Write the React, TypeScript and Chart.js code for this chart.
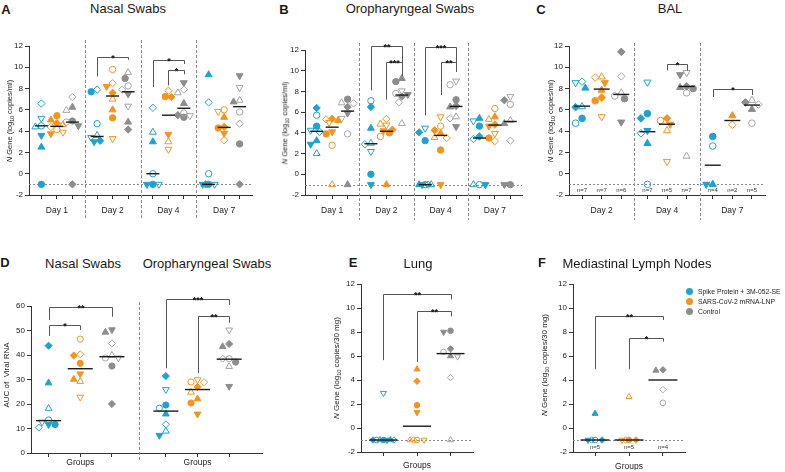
import React, { useEffect, useRef } from 'react';
import { Chart, registerables } from 'chart.js';

Chart.register(...registerables);

const FONT = "'Liberation Sans', Arial, Helvetica, sans-serif";
Chart.defaults.font.family = FONT;

type Val = number | null;
type Sig = { cat: number; from: number; to: number; y: number; yFrom: number; yTo: number; label: string };

// ---------- shared ----------
const GROUPS = ['Spike Protein + 3M-052-SE', 'SARS-CoV-2 mRNA-LNP', 'Control'];
const GROUP_COLORS = ['#1ea2cf', '#f6931f', '#8d8d8d'];
const OPEN_COLORS = ['#1ea2cf', '#f6931f', '#a5a5a5'];
// one marker per animal (order of the values in every row below)
const ANIMAL_MARKERS = ['circle', 'circle-open', 'tri', 'tri-open', 'down', 'down-open', 'diamond', 'diamond-open'];

// ---------- A: Nasal swabs (log10 copies/ml) ----------
const A_DAYS = ['Day 1', 'Day 2', 'Day 4', 'Day 7'];
const A_SPIKE: Val[][] = [
  [-1, 4.5, 2.5, 4.4, 3.6, 5.2, null, 6.6],
  [7.7, 4.7, null, 3.6, 3.0, 3.4, 3.1, 7.9],
  [-1, 0.0, 3.0, 3.9, -1, -1, null, 6.2],
  [-1, 0.0, 9.3, null, -1, -1, -1, 6.7],
];
const A_MRNA: Val[][] = [
  [5.45, 4.15, 5.05, 4.6, 3.75, 3.9, 4.75, 4.4],
  [5.25, 9.8, 6.0, 7.0, 8.2, 3.3, 7.6, 8.5],
  [7.25, null, null, 3.0, 3.7, 2.3, 7.2, 7.8],
  [4.3, 6.0, 5.3, null, 3.8, 5.85, 4.4, 3.15],
];
const A_CONTROL: Val[][] = [
  [4.95, 4.85, 6.25, 5.95, 4.5, null, -1, 7.2],
  [8.95, 8.25, 4.85, 9.5, 7.5, 6.35, 4.15, 7.9],
  [5.3, 5.7, 6.6, 7.6, 8.55, 5.45, 5.5, 7.9],
  [2.8, 5.8, 6.75, 6.9, 9.2, 8.1, -1, 4.7],
];
const A_MEDIANS = [[4.5, 4.45, 4.85], [3.5, 7.3, 7.7], [0.0, 5.5, 6.15], [-1, 4.35, 6.3]];
const A_SIG: Sig[] = [
  { cat: 1, from: 0, to: 2, y: 11.0, yFrom: 9.15, yTo: 10.7, label: '*' },
  { cat: 2, from: 0, to: 2, y: 10.65, yFrom: 8.15, yTo: 10.3, label: '*' },
  { cat: 2, from: 1, to: 2, y: 9.7, yFrom: 8.3, yTo: 9.35, label: '*' },
];

// ---------- B: Oropharyngeal swabs ----------
const B_DAYS = ['Day 1', 'Day 2', 'Day 4', 'Day 7'];
const B_SPIKE: Val[][] = [
  [4.65, 5.7, 3.25, 2.0, 2.9, 4.25, 6.4, 4.1],
  [0.0, 7.1, 4.45, 3.0, -1, 2.2, 6.5, 2.9],
  [3.25, -1, -1, -1, -1, 4.45, 4.05, -1],
  [4.65, -1, 5.4, -1, -1, 5.15, 3.65, 3.4],
];
const B_MRNA: Val[][] = [
  [3.9, 2.8, 5.2, -1, 4.1, 5.0, 5.35, 5.3],
  [4.0, 3.65, -1, 4.85, 4.2, 4.75, 4.3, 5.35],
  [2.35, 4.65, 3.95, 3.55, -1, 5.55, 4.25, 3.5],
  [3.5, 6.35, 5.55, 5.3, 4.65, 3.95, 4.8, 3.2],
];
const B_CONTROL: Val[][] = [
  [7.25, 3.9, -1, 6.9, 5.9, 5.4, 6.5, 6.85],
  [8.95, 7.8, 9.25, 4.9, 7.7, 8.05, 7.5, 6.95],
  [7.2, 8.65, 6.5, 5.55, 4.6, 9.0, 6.6, 5.4],
  [-1, 6.75, 4.9, 5.2, -1, 7.5, 7.15, 3.25],
];
const B_MEDIANS = [[4.15, 4.55, 6.1], [2.95, 4.15, 7.65], [-1, 3.75, 6.55], [3.5, 4.75, 5.1]];
const B_SIG: Sig[] = [
  { cat: 1, from: 0, to: 2, y: 12.4, yFrom: 8.1, yTo: 9.5, label: '**' },
  { cat: 1, from: 1, to: 2, y: 10.8, yFrom: 7.2, yTo: 9.5, label: '***' },
  { cat: 2, from: 0, to: 2, y: 12.25, yFrom: 5.7, yTo: 9.9, label: '***' },
  { cat: 2, from: 1, to: 2, y: 10.8, yFrom: 7.65, yTo: 9.9, label: '**' },
];

// ---------- C: BAL ----------
const C_DAYS = ['Day 2', 'Day 4', 'Day 7'];
const C_SPIKE: Val[][] = [
  [5.2, 4.75, 8.05, 6.3, null, 8.55, 6.25, 8.65],
  [5.65, -1, 2.85, null, 4.05, 8.6, 5.2, 3.8],
  [3.5, 2.6, -1, null, -1, null, null, null],
];
const C_MRNA: Val[][] = [
  [6.85, null, 7.85, 9.1, 8.55, 5.35, 7.15, 9.05],
  [null, 5.0, null, 4.05, 4.65, 1.15, 5.2, null],
  [null, null, 5.45, null, null, null, null, 4.6],
];
const C_CONTROL: Val[][] = [
  [7.05, 7.3, null, 7.6, 4.85, null, 11.45, 9.15],
  [8.0, 7.6, 8.1, 1.65, 9.3, 9.5, 8.2, null],
  [null, 4.75, 6.05, 6.9, null, null, 6.7, 6.5],
];
const C_MEDIANS = [[6.35, 7.95, 7.45], [3.95, 4.65, 8.2], [0.8, 5.0, 6.45]];
const C_N = [['n=7', 'n=7', 'n=6'], ['n=7', 'n=5', 'n=7'], ['n=4', 'n=2', 'n=5']];
const C_SIG: Sig[] = [
  { cat: 1, from: 1, to: 2, y: 10.3, yFrom: 9.7, yTo: 9.7, label: '*' },
  { cat: 2, from: 0, to: 2, y: 8.0, yFrom: 7.2, yTo: 7.4, label: '*' },
];

// ---------- D: AUC of viral RNA ----------
const D_CATS = ['Groups', 'Groups'];
const D_SPIKE: Val[][] = [
  [11.6, 13.5, 28.6, 18.2, 11.6, 12.6, 43.8, 10.4],
  [19.6, 18.3, 15.9, 8.9, 7.2, 25.9, 31.4, 11.7],
];
const D_MRNA: Val[][] = [
  [36.6, 46.5, 30.1, 29.2, 32.3, 22.8, 39.8, 40.3],
  [20.4, 29.0, 22.1, 24.8, 15.9, 29.9, 26.9, 28.9],
];
const D_CONTROL: Val[][] = [
  [35.5, 38.8, 49.3, 39.9, 50.3, 38.8, 20.0, 44.7],
  [37.1, 38.5, 43.4, 35.3, 27.2, 50.2, 44.5, 38.5],
];
const D_MEDIANS = [[13.2, 34.4, 39.3], [17.1, 25.9, 38.3]];
const D_SIG: Sig[] = [
  { cat: 0, from: 0, to: 2, y: 59.4, yFrom: 54.3, yTo: 55.6, label: '**' },
  { cat: 0, from: 0, to: 1, y: 52.2, yFrom: 47.8, yTo: 50.2, label: '*' },
  { cat: 1, from: 0, to: 2, y: 62.7, yFrom: 34.6, yTo: 60.4, label: '***' },
  { cat: 1, from: 1, to: 2, y: 55.9, yFrom: 32.6, yTo: 53.2, label: '**' },
];

// ---------- E: Lung (log10 copies/30 mg) ----------
const E_CATS = ['Groups'];
const E_SPIKE: Val[][] = [[-1, -1, -1, -1, -1, 2.9, -1, -1]];
const E_MRNA: Val[][] = [[1.9, -1, 4.9, -1, 1.3, -1, 3.9, -1]];
const E_CONTROL: Val[][] = [[8.1, 6.35, 6.0, -1, 8.0, 5.95, 6.6, 4.2]];
const E_MEDIANS = [[-1, 0.15, 6.2]];
const E_SIG: Sig[] = [
  { cat: 0, from: 0, to: 2, y: 11.2, yFrom: 5.65, yTo: 10.7, label: '**' },
  { cat: 0, from: 1, to: 2, y: 9.75, yFrom: 5.5, yTo: 9.3, label: '**' },
];

// ---------- F: Mediastinal lymph nodes ----------
const F_CATS = ['Groups'];
const F_SPIKE: Val[][] = [[null, -1, 1.2, null, -1, null, -1, -1]];
const F_MRNA: Val[][] = [[-1, null, null, 2.6, null, -1, -1, -1]];
const F_CONTROL: Val[][] = [[null, 2.1, 4.8, null, null, null, 4.85, 3.2]];
const F_MEDIANS = [[-1, -1, 4.0]];
const F_N = [['n=5', 'n=5', 'n=4']];
const F_SIG: Sig[] = [
  { cat: 0, from: 0, to: 2, y: 9.35, yFrom: 4.9, yTo: 9.0, label: '**' },
  { cat: 0, from: 1, to: 2, y: 7.5, yFrom: 4.9, yTo: 7.2, label: '*' },
];

// ---------- layout ----------
type Panel = {
  key: string;
  box: number[]; // canvas left, top, width, height
  plot: number[]; // left, top, right, bottom of plot area
  xRange: number[];
  w: number;
  yRange: number[]; // min, max, step
  cats: string[];
  series: Val[][][];
  medians: number[][];
  sigs: Sig[];
  nLabels?: string[][];
  lod: boolean;
  radius: number;
  medHalf: number;
  step: number;
  maxW: number;
  xPad: number;
  divTop: number;
  divBottom: number;
};

const PANELS: Panel[] = [
  {
    key: 'A', box: [0, 20, 262, 210], plot: [29, 46, 252, 195], xRange: [-0.5, 3.5], w: 0.278,
    yRange: [-2, 12, 2], cats: A_DAYS, series: [A_SPIKE, A_MRNA, A_CONTROL], medians: A_MEDIANS, sigs: A_SIG,
    lod: true, radius: 3.2, medHalf: 6.5, step: 6, maxW: 6.5, xPad: 7, divTop: 6, divBottom: 25,
  },
  {
    key: 'B', box: [262, 20, 268, 210], plot: [305, 50, 522, 195], xRange: [-0.5, 3.5], w: 0.285,
    yRange: [-2, 12, 2], cats: B_DAYS, series: [B_SPIKE, B_MRNA, B_CONTROL], medians: B_MEDIANS, sigs: B_SIG,
    lod: true, radius: 3.2, medHalf: 6.5, step: 6, maxW: 6.5, xPad: 7, divTop: 7, divBottom: 25,
  },
  {
    key: 'C', box: [530, 20, 255, 210], plot: [569, 46, 765, 195], xRange: [-0.5, 2.5], w: 0.3,
    yRange: [-2, 12, 2], cats: C_DAYS, series: [C_SPIKE, C_MRNA, C_CONTROL], medians: C_MEDIANS, sigs: C_SIG,
    nLabels: C_N, lod: true, radius: 3.3, medHalf: 8, step: 6.5, maxW: 8, xPad: 7, divTop: 3, divBottom: 25,
  },
  {
    key: 'D', box: [0, 280, 272, 192], plot: [31, 306, 262, 453], xRange: [-0.42, 1.55], w: 0.27,
    yRange: [0, 60, 10], cats: D_CATS, series: [D_SPIKE, D_MRNA, D_CONTROL], medians: D_MEDIANS, sigs: D_SIG,
    lod: false, radius: 3.1, medHalf: 12.5, step: 6.5, maxW: 12, xPad: 1, divTop: 4, divBottom: 8,
  },
  {
    key: 'E', box: [335, 270, 145, 202], plot: [361, 284, 473, 452], xRange: [-1.67, 1.67], w: 1,
    yRange: [-2, 12, 2], cats: E_CATS, series: [E_SPIKE, E_MRNA, E_CONTROL], medians: E_MEDIANS, sigs: E_SIG,
    lod: true, radius: 2.8, medHalf: 14, step: 7, maxW: 13, xPad: 5, divTop: 0, divBottom: 0,
  },
  {
    key: 'F', box: [548, 270, 142, 202], plot: [573, 284, 685, 452], xRange: [-1.65, 1.65], w: 1,
    yRange: [-2, 12, 2], cats: F_CATS, series: [F_SPIKE, F_MRNA, F_CONTROL], medians: F_MEDIANS, sigs: F_SIG,
    nLabels: F_N, lod: true, radius: 2.8, medHalf: 14.5, step: 7, maxW: 13, xPad: 6, divTop: 0, divBottom: 0,
  },
];

const Y_AXIS_W = 24;

// beeswarm: horizontal pixel offsets so markers do not pile up
function swarm(vals: Val[], pxY: number, s: number, maxW: number): number[] {
  const out = vals.map(() => 0);
  const order = vals.map((_, i) => i).filter((i) => vals[i] != null)
    .sort((a, b) => (vals[b] as number) - (vals[a] as number));
  const cands: number[] = [0];
  for (let k = 0.5; k * s <= maxW + 0.01; k += 0.5) cands.push(-k * s, k * s);
  const placed: { x: number; y: number }[] = [];
  for (const i of order) {
    const y = (vals[i] as number) * pxY;
    let best = 0;
    let bestD = -1;
    for (const c of cands) {
      let d = Infinity;
      for (const q of placed) d = Math.min(d, Math.hypot(q.x - c, q.y - y));
      if (d >= s) { best = c; break; }
      if (d > bestD + 0.01) { bestD = d; best = c; }
    }
    placed.push({ x: best, y });
    out[i] = best;
  }
  return out;
}

function PanelChart({ p }: { p: Panel }) {
  const ref = useRef<HTMLCanvasElement>(null);
  useEffect(() => {
    const canvas = ref.current;
    if (!canvas) return;
    const [bl, bt, bw, bh] = p.box;
    const [pl, pt, pr, pb] = p.plot;
    const pxX = (pr - pl) / (p.xRange[1] - p.xRange[0]);
    const pxY = (pb - pt) / (p.yRange[1] - p.yRange[0]);
    const xH = bt + bh - pb - 2;
    const gx = (c: number, g: number) => c + (g - 1) * p.w;

    const datasets = p.series.map((grid, g) => {
      const pts: { x: number; y: number }[] = [];
      const styles: string[] = [];
      const rots: number[] = [];
      const radii: number[] = [];
      const fills: string[] = [];
      const strokes: string[] = [];
      grid.forEach((vals, c) => {
        const offs = swarm(vals, pxY, p.step, p.maxW);
        vals.forEach((v, i) => {
          if (v == null) return;
          pts.push({ x: gx(c, g) + offs[i] / pxX, y: v });
          const m = ANIMAL_MARKERS[i];
          const open = m.endsWith('-open');
          const shape = m.replace('-open', '');
          styles.push(shape === 'circle' ? 'circle' : shape === 'diamond' ? 'rectRot' : 'triangle');
          rots.push(shape === 'down' ? 180 : 0);
          radii.push(p.radius * (shape === 'circle' ? 1 : shape === 'diamond' ? 1.15 : 1.25));
          fills.push(open ? 'rgba(255,255,255,0)' : GROUP_COLORS[g]);
          strokes.push(open ? OPEN_COLORS[g] : GROUP_COLORS[g]);
        });
      });
      return {
        label: GROUPS[g], data: pts, showLine: false, clip: false,
        pointStyle: styles, pointRotation: rots, pointRadius: radii,
        pointBackgroundColor: fills, pointBorderColor: strokes, pointBorderWidth: 1,
      };
    });

    const tickVals: number[] = [];
    p.cats.forEach((_, c) => { for (let g = 0; g < 3; g++) tickVals.push(gx(c, g)); });

    const overlay = {
      id: 'overlay' + p.key,
      beforeDatasetsDraw(chart: any) {
        const ctx = chart.ctx;
        const xs = chart.scales.x;
        const ys = chart.scales.y;
        const a = chart.chartArea;
        ctx.save();
        ctx.strokeStyle = '#8a8a8a';
        ctx.lineWidth = 1;
        ctx.setLineDash([3, 2]);
        for (let c = 0; c < p.cats.length - 1; c++) {
          const x = Math.round(xs.getPixelForValue(c + 0.5)) + 0.5;
          ctx.beginPath();
          ctx.moveTo(x, a.top - p.divTop);
          ctx.lineTo(x, a.bottom + p.divBottom);
          ctx.stroke();
        }
        if (p.lod) {
          const y = Math.round(ys.getPixelForValue(-1)) + 0.5;
          ctx.setLineDash([2, 2]);
          ctx.beginPath();
          ctx.moveTo(a.left, y);
          ctx.lineTo(a.right, y);
          ctx.stroke();
        }
        ctx.restore();
      },
      afterDatasetsDraw(chart: any) {
        const ctx = chart.ctx;
        const xs = chart.scales.x;
        const ys = chart.scales.y;
        ctx.save();
        // medians
        ctx.strokeStyle = '#1a1a1a';
        ctx.lineWidth = 1.4;
        p.medians.forEach((row, c) => row.forEach((m, g) => {
          const x = xs.getPixelForValue(gx(c, g));
          const y = ys.getPixelForValue(m);
          ctx.beginPath();
          ctx.moveTo(x - p.medHalf, y);
          ctx.lineTo(x + p.medHalf, y);
          ctx.stroke();
        }));
        // significance brackets
        ctx.strokeStyle = '#555';
        ctx.lineWidth = 1;
        ctx.fillStyle = '#111';
        ctx.font = `bold 9px ${FONT}`;
        ctx.textAlign = 'center';
        ctx.textBaseline = 'alphabetic';
        p.sigs.forEach((s) => {
          const x1 = Math.round(xs.getPixelForValue(gx(s.cat, s.from))) + 0.5;
          const x2 = Math.round(xs.getPixelForValue(gx(s.cat, s.to))) + 0.5;
          const yt = Math.round(ys.getPixelForValue(s.y)) + 0.5;
          ctx.beginPath();
          ctx.moveTo(x1, ys.getPixelForValue(s.yFrom));
          ctx.lineTo(x1, yt);
          ctx.lineTo(x2, yt);
          ctx.lineTo(x2, ys.getPixelForValue(s.yTo));
          ctx.stroke();
          ctx.fillText(s.label, (x1 + x2) / 2, yt + 3.5);
        });
        // n labels
        if (p.nLabels) {
          ctx.font = `6px ${FONT}`;
          ctx.fillStyle = '#333';
          ctx.textBaseline = 'middle';
          p.nLabels.forEach((row, c) => row.forEach((t, g) => {
            ctx.fillText(t, xs.getPixelForValue(gx(c, g)), ys.getPixelForValue(-1.6));
          }));
        }
        ctx.restore();
      },
    };

    const axisColor = '#333';
    const chart = new Chart(canvas, {
      type: 'scatter',
      data: { datasets: datasets as any },
      options: {
        animation: false,
        responsive: false,
        maintainAspectRatio: false,
        events: [],
        layout: {
          padding: { left: pl - bl - Y_AXIS_W, right: bl + bw - pr, top: pt - bt, bottom: 2 },
        },
        plugins: { legend: { display: false }, tooltip: { enabled: false }, title: { display: false } },
        scales: {
          x: {
            type: 'linear',
            min: p.xRange[0],
            max: p.xRange[1],
            afterBuildTicks: (s: any) => { s.ticks = tickVals.map((v) => ({ value: v })); },
            afterFit: (s: any) => { s.height = xH; },
            ticks: {
              autoSkip: false, maxRotation: 0, minRotation: 0, padding: p.xPad,
              font: { size: 8.5, family: FONT }, color: '#222',
              callback: (_v: any, i: number) => (i % 3 === 1 ? p.cats[(i - 1) / 3] : ''),
            },
            grid: { drawOnChartArea: false, drawTicks: true, tickLength: 4, color: axisColor },
            border: { display: true, color: axisColor, width: 1 },
          },
          y: {
            type: 'linear',
            min: p.yRange[0],
            max: p.yRange[1],
            afterFit: (s: any) => { s.width = Y_AXIS_W; },
            ticks: { stepSize: p.yRange[2], padding: 2, font: { size: 8, family: FONT }, color: '#222' },
            grid: { drawOnChartArea: false, drawTicks: true, tickLength: 4, color: axisColor },
            border: { display: true, color: axisColor, width: 1 },
          },
        },
      },
      plugins: [overlay],
    } as any);
    return () => chart.destroy();
  }, [p]);
  const [bl, bt, bw, bh] = p.box;
  return (
    <canvas
      ref={ref}
      width={bw}
      height={bh}
      style={{ position: 'absolute', left: bl, top: bt, width: bw, height: bh }}
    />
  );
}

function Txt({ x, y, size, bold, children }: { x: number; y: number; size: number; bold?: boolean; children: any }) {
  return (
    <div style={{
      position: 'absolute', left: x, top: y, transform: 'translate(-50%, -50%)', fontSize: size,
      fontWeight: bold ? 700 : 400, whiteSpace: 'nowrap', lineHeight: 1,
    }}>{children}</div>
  );
}

function YTitle({ x, y, size, children }: { x: number; y: number; size: number; children: any }) {
  return (
    <div style={{
      position: 'absolute', left: x, top: y, transform: 'translate(-50%, -50%) rotate(-90deg)', fontSize: size,
      whiteSpace: 'nowrap', lineHeight: 1, color: '#222',
    }}>{children}</div>
  );
}

const sub = { fontSize: '0.7em', verticalAlign: '-0.3em', lineHeight: 0 } as const;

export default function App() {
  return (
    <div style={{
      position: 'fixed', left: 0, top: 0, width: 785, height: 472, background: '#fff',
      fontFamily: FONT, color: '#1a1a1a', overflow: 'hidden',
    }}>
      {PANELS.map((p) => <PanelChart key={p.key} p={p} />)}

      <Txt x={6} y={9} size={13} bold>A</Txt>
      <Txt x={128} y={8} size={13}>Nasal Swabs</Txt>
      <Txt x={284} y={9} size={13} bold>B</Txt>
      <Txt x={410} y={8} size={13}>Oropharyngeal Swabs</Txt>
      <Txt x={541} y={9} size={13} bold>C</Txt>
      <Txt x={670} y={8} size={13}>BAL</Txt>
      <Txt x={5} y={262} size={13} bold>D</Txt>
      <Txt x={83} y={263} size={13}>Nasal Swabs</Txt>
      <Txt x={207} y={263} size={13}>Oropharyngeal Swabs</Txt>
      <Txt x={353} y={262} size={13} bold>E</Txt>
      <Txt x={418} y={263} size={13}>Lung</Txt>
      <Txt x={542} y={262} size={13} bold>F</Txt>
      <Txt x={637} y={263} size={13}>Mediastinal Lymph Nodes</Txt>

      <YTitle x={10} y={121} size={7.5}><i>N</i> Gene (log<sub style={sub}>10</sub> copies/ml)</YTitle>
      <YTitle x={285} y={123} size={7.5}><i>N</i> Gene (log<sub style={sub}>10</sub> copies/ml)</YTitle>
      <YTitle x={551} y={121} size={7.5}><i>N</i> Gene (log<sub style={sub}>10</sub> copies/ml)</YTitle>
      <YTitle x={7} y={375} size={8}>AUC of&nbsp; Viral RNA</YTitle>
      <YTitle x={337} y={368} size={8}><i>N</i> Gene (log<sub style={sub}>10</sub> copies/30 mg)</YTitle>
      <YTitle x={545} y={365} size={8}><i>N</i> Gene (log<sub style={sub}>10</sub> copies/30 mg)</YTitle>

      {GROUPS.map((g, i) => (
        <div key={g} style={{ position: 'absolute', left: 686, top: 286 + i * 10, height: 10, display: 'flex', alignItems: 'center' }}>
          <span style={{ width: 7, height: 7, borderRadius: '50%', background: GROUP_COLORS[i], display: 'inline-block', marginRight: 5, flexShrink: 0 }} />
          <span style={{ fontSize: 6.8, color: '#222', whiteSpace: 'nowrap' }}>{g}</span>
        </div>
      ))}
    </div>
  );
}
